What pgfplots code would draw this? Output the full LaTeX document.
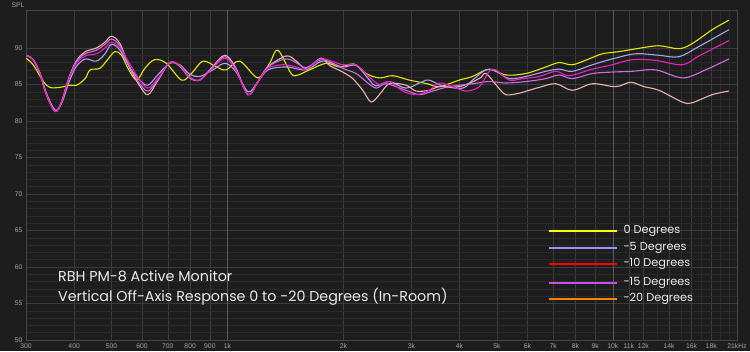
\documentclass[border=0pt]{standalone}
\usepackage{fontspec}
\setmainfont{Poppins}
\newfontfamily\tickfont{Liberation Sans}
\usepackage{pgfplots}
\pgfplotsset{compat=1.18}
\definecolor{bg}{RGB}{29,29,29}
\definecolor{gridmaj}{RGB}{60,60,60}
\definecolor{gridmin}{RGB}{42,42,42}
\definecolor{gridhi}{RGB}{90,90,90}
\definecolor{frame}{RGB}{70,70,70}
\definecolor{ticktext}{RGB}{165,165,165}
\definecolor{cyel}{RGB}{230,230,15}
\definecolor{clav}{RGB}{165,165,235}
\definecolor{cmag}{RGB}{240,30,190}
\definecolor{cvio}{RGB}{205,110,225}
\definecolor{csal}{RGB}{235,180,170}
\definecolor{lyel}{RGB}{255,255,0}
\definecolor{llav}{RGB}{150,150,255}
\definecolor{lred}{RGB}{255,0,0}
\definecolor{lvio}{RGB}{200,80,230}
\definecolor{lora}{RGB}{255,130,0}
\begin{document}
\begin{tikzpicture}
\fill[bg] (-26pt,-11pt) rectangle (724pt,340pt);
\useasboundingbox (-26pt,-11pt) rectangle (724pt,340pt);
\begin{axis}[
  at={(0pt,0pt)}, anchor=south west,
  scale only axis, width=711pt, height=330pt,
  xmode=log, xmin=300, xmax=21000, ymin=50, ymax=95.2,
  xtick={300,400,500,600,700,800,900,2000,3000,4000,5000,6000,7000,8000,9000,11000,12000,14000,16000,18000,21000},
  xticklabels={300,400,500,600,700,800,900,2k,3k,4k,5k,6k,7k,8k,9k,11k,12k,14k,16k,18k,21kHz},
  extra x ticks={1000,10000},
  extra x tick labels={1k,10k},
  extra x tick style={grid=major, major grid style={draw=gridhi, line width=0.6pt}},
  minor xtick={13000,15000,17000,19000,20000},
  ytick={50,55,60,65,70,75,80,85,90},
  minor y tick num=4,
  grid=both,
  major grid style={draw=gridmaj, line width=0.5pt},
  minor grid style={draw=gridmin, line width=0.4pt},
  tick style={draw=none},
  axis line style={draw=frame},
  tick label style={font=\tickfont\fontsize{6.8}{7}\selectfont, text=ticktext},
  /pgf/number format/assume math mode=true,
  axis background/.style={fill=bg},
  every axis plot/.append style={line width=1.1pt, smooth, tension=0.55},
]
% 0 degrees
\addplot[cyel] coordinates {(300,88.6) (313,87.7) (333,85.4) (346,84.6) (367,84.6) (390,84.9) (406,84.9) (427,85.8) (440,87.0) (466,87.2) (485,88.2) (510,89.5) (531,89.0) (552,87.2) (581,85.6) (610,87.2) (647,88.4) (694,87.9) (760,85.6) (806,86.5) (864,88.2) (936,87.4) (993,87.0) (1075,88.2) (1200,85.9) (1286,87.9) (1351,89.7) (1463,86.5) (1523,86.3) (1633,87.0) (1804,87.9) (1953,87.4) (2130,87.8) (2289,86.5) (2478,85.9) (2684,86.2) (2964,85.6) (3300,85.1) (3545,84.7) (3995,85.6) (4324,86.1) (4777,87.1) (5277,86.3) (5946,86.5) (6701,87.4) (7252,88.0) (7853,87.7) (8674,88.5) (9390,89.2) (10377,89.5) (11690,89.95) (13170,90.3) (14840,89.9) (16065,90.6) (18105,92.5) (20000,93.8)};
% -5 degrees
\addplot[clav] coordinates {(300,89.0) (313,88.4) (326,86.6) (339,83.8) (357,81.5) (371,82.4) (386,85.0) (402,87.2) (418,88.2) (431,88.5) (457,88.2) (481,89.2) (500,90.5) (526,89.7) (558,87.3) (592,85.6) (622,84.9) (659,86.3) (708,87.9) (752,87.7) (798,86.4) (847,86.1) (910,86.9) (984,87.9) (1050,86.8) (1130,84.0) (1197,85.3) (1273,87.0) (1421,87.4) (1601,87.0) (1767,88.2) (1991,87.4) (2157,87.6) (2335,85.6) (2430,84.8) (2631,85.4) (2906,84.5) (3209,85.4) (3339,85.6) (3616,84.8) (4074,84.5) (4324,85.6) (4683,87.0) (4971,86.8) (5382,85.8) (5946,86.1) (6701,86.8) (7252,87.1) (7853,86.8) (8847,87.7) (9968,88.5) (11463,89.2) (13170,89.0) (14840,88.8) (16720,90.2) (20000,92.5)};
% -20 degrees
\addplot[csal] coordinates {(300,89.0) (313,88.4) (326,86.5) (339,83.6) (357,81.3) (371,82.6) (386,85.6) (402,87.9) (418,89.1) (431,89.6) (457,90.0) (481,90.8) (500,91.6) (526,90.6) (558,87.2) (592,84.8) (622,83.6) (659,85.5) (708,88.0) (752,87.5) (798,85.9) (847,85.6) (910,87.3) (984,89.0) (1050,87.3) (1130,83.6) (1197,85.3) (1273,87.4) (1421,88.9) (1508,88.2) (1601,87.2) (1750,88.6) (1840,87.6) (1991,86.7) (2114,85.8) (2244,84.2) (2359,82.6) (2478,83.6) (2631,85.1) (2906,84.9) (3085,84.1) (3339,84.2) (3545,84.7) (3995,84.7) (4500,85.8) (4683,86.5) (5021,84.7) (5277,83.6) (5714,83.8) (6066,84.2) (6439,84.6) (7114,85.1) (7853,84.2) (8847,85.1) (10170,84.7) (11126,85.3) (12045,84.7) (13170,84.2) (15136,82.6) (16065,82.5) (18105,83.6) (20000,84.1)};
% -15 degrees
\addplot[cvio] coordinates {(300,89.0) (313,88.4) (326,86.5) (339,83.6) (357,81.3) (371,82.6) (386,85.6) (402,87.8) (418,88.9) (431,89.3) (457,89.7) (481,90.5) (500,91.2) (526,90.3) (558,87.3) (592,85.1) (622,84.1) (659,85.6) (708,88.0) (752,87.6) (798,86.0) (847,85.6) (910,87.2) (984,88.8) (1050,87.2) (1130,83.6) (1197,85.3) (1273,87.4) (1421,88.5) (1538,87.7) (1601,87.3) (1767,88.4) (1991,87.2) (2157,86.5) (2289,85.4) (2430,84.5) (2580,85.1) (2906,84.2) (3147,83.6) (3407,84.1) (3763,84.7) (4324,85.1) (4777,85.4) (5277,85.2) (5946,85.4) (6701,85.8) (7252,86.3) (7853,85.8) (8847,86.5) (9968,86.7) (11232,86.8) (12914,87.0) (15200,85.9) (17400,87.0) (20000,88.5)};
% -10 degrees
\addplot[cmag] coordinates {(300,89.0) (313,88.4) (326,86.5) (339,83.6) (357,81.3) (371,82.6) (386,85.5) (402,87.6) (418,88.6) (431,89.0) (457,89.2) (481,90.0) (500,90.8) (526,90.0) (558,87.8) (592,85.6) (622,84.5) (659,85.8) (708,88.0) (752,87.6) (798,86.0) (847,85.6) (910,87.1) (984,88.6) (1050,87.0) (1130,83.6) (1197,85.3) (1273,87.2) (1392,87.7) (1508,87.4) (1601,87.1) (1750,88.5) (1991,87.7) (2157,87.7) (2335,86.0) (2478,85.0) (2631,85.4) (2849,84.1) (3085,83.6) (3339,84.2) (3545,85.2) (3838,84.7) (4157,84.1) (4500,84.7) (4777,86.8) (4971,87.0) (5382,85.6) (5828,85.8) (6439,86.1) (7114,86.8) (7699,86.2) (8847,87.1) (9968,87.7) (11232,88.4) (12914,88.3) (15136,87.7) (16720,88.9) (20000,91.0)};
\end{axis}
\node[text=ticktext, font=\tickfont\fontsize{6.8}{7}\selectfont] at (-8pt,335pt) {SPL};
\node[anchor=west, text=white!92!black, font=\fontsize{14.3}{16}\selectfont, inner sep=0pt] at (32pt,64pt) {RBH PM-8 Active Monitor};
\node[anchor=west, text=white!92!black, font=\fontsize{14.3}{16}\selectfont, inner sep=0pt] at (32pt,43pt) {Vertical Off-Axis Response 0 to -20 Degrees (In-Room)};
\foreach \y/\c/\t in {109.3/lyel/0 Degrees, 91.7/llav/-5 Degrees, 76/lred/-10 Degrees, 56.7/lvio/-15 Degrees, 40.7/lora/-20 Degrees}{
  \draw[\c, line width=2pt] (523.3pt,\y pt) -- (591.3pt,\y pt);
  \node[anchor=west, text=white!92!black, font=\fontsize{11.3}{13}\selectfont, inner sep=0pt] at (597.3pt,\y pt) {\t};
}
\end{tikzpicture}
\end{document}
